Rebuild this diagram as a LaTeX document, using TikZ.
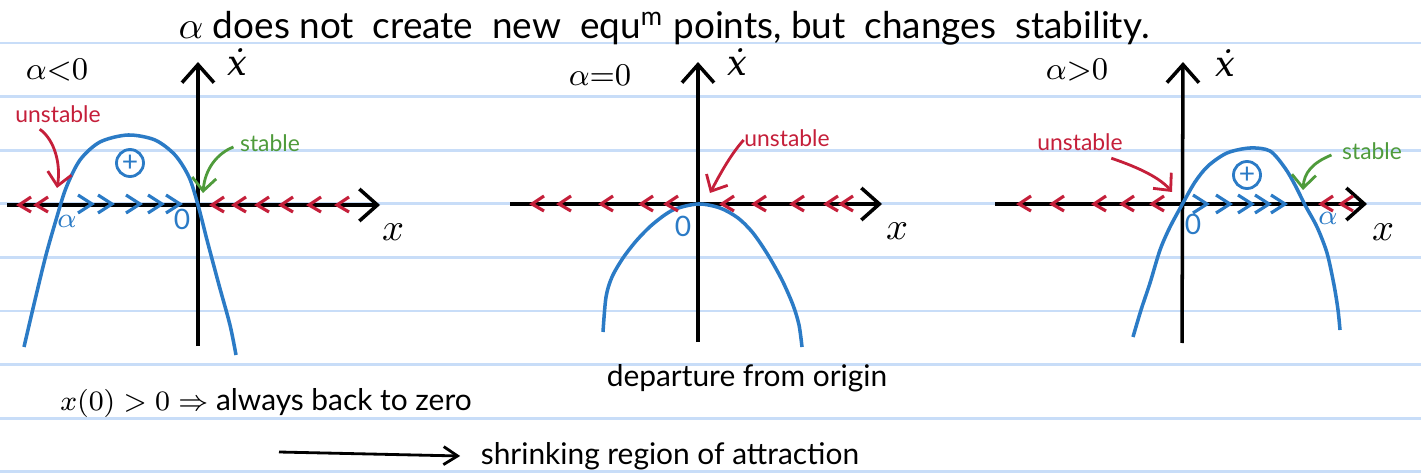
\documentclass[tikz,border=0pt]{standalone}
\usepackage{fontspec}
\setmainfont{Lato}
\newfontfamily\dotfont{DejaVu Serif}
\usetikzlibrary{arrows.meta}
\definecolor{inkblue}{HTML}{2B7BC6}
\definecolor{inkred}{HTML}{C51F3A}
\definecolor{inkgreen}{HTML}{4F9B3B}
\definecolor{ruling}{HTML}{C8DDF8}

\begin{document}
\begin{tikzpicture}[
    x=0.01cm, y=-0.01cm,
    axis/.style={-{Straight Barb[length=1.8mm, width=3.2mm]}, line width=1pt},
    curve/.style={inkblue, line width=1pt},
    lead/.style={-{Straight Barb[length=1.3mm, width=2.4mm]}, line width=0.8pt},
    leftmark/.style={inkred, line width=0.9pt},
    rightmark/.style={inkblue, line width=0.9pt},
    tag/.style={inner sep=0pt, font=\fontsize{6.5}{7}\selectfont},
    cond/.style={inner sep=0pt, font=\fontsize{9}{10}\selectfont},
    axlabel/.style={inner sep=0pt, font=\fontsize{11}{12}\selectfont},
    dotlabel/.style={inner sep=0pt, anchor=base, font=\dotfont\itshape\fontsize{10}{11}\selectfont},
    root/.style={inner sep=0pt, inkblue, font=\fontsize{8}{9}\selectfont},
    sign/.style={circle, draw=inkblue, inkblue, line width=0.8pt, inner sep=0pt, minimum size=0.27cm, font=\fontsize{8}{9}\selectfont},
    note/.style={inner sep=0pt, font=\fontsize{8.5}{10}\selectfont}
]
    \fill[white] (0,0) rectangle (1421,476);
    \useasboundingbox (0,0) rectangle (1421,476);
    % ruled paper
    \foreach \y in {43,96.6,150.2,203.8,257.4,311,364.6,418.2,471.8}
        \draw[ruling, line width=0.8pt] (0,\y) -- (1421,\y);

    % heading
    \node[inner sep=0pt, anchor=base west, font=\fontsize{10.5}{12}\selectfont] (title) at (178,39)
        {$\alpha$ does not \ create \ new \ equ$^{\mathrm{m}}$ points, but \ changes \ stability.};

    % ---------- alpha < 0 ----------
    \coordinate (xl1) at (7,205);
    \coordinate (xr1) at (380,205);
    \coordinate (yb1) at (198,346);
    \coordinate (yt1) at (198,62);
    \draw[axis] (xl1) -- (xr1);
    \draw[axis] (yb1) -- (yt1);
    \node[dotlabel] (xdot1) at (237,76) {ẋ};
    \node[axlabel] (x1) at (393,232) {$x$};
    \node[cond] (cond1) at (57,70) {$\alpha{<}0$};
    \draw[curve] plot[smooth] coordinates {(24,347) (35,300) (46,255) (56,220) (66,188) (80,160)
        (100,142) (128,135) (155,140) (175,155) (189,177) (198,205) (207,240) (219,285)
        (230,325) (236,355)};
    \node[sign] (plus1) at (130,163) {+};
    \foreach \p in {25,42,218,240,263,287,315,343}
        \draw[leftmark] (\p+6,197) -- (\p-6,205) -- (\p+6,212);
    \foreach \p in {85,105,133,155,173}
        \draw[rightmark] (\p-7,195) -- (\p+7,204) -- (\p-7,213);
    \node[root] (a1) at (67,221) {$\alpha$};
    \node[root] (z1) at (182,219) {0};
    \node[tag, inkred] (un1) at (58,114) {unstable};
    \coordinate (un1tip) at (57,188);
    \draw[lead, inkred] (un1.south west) ++(25,6) .. controls (55,140) and (61,165) .. (un1tip);
    \node[tag, inkgreen] (st1) at (270,143) {stable};
    \coordinate (st1tip) at (203,193);
    \draw[lead, inkgreen] (st1.west) ++(-6,4) .. controls (218,153) and (205,168) .. (st1tip);

    % ---------- alpha = 0 ----------
    \coordinate (xl2) at (510,204);
    \coordinate (xr2) at (882,204);
    \coordinate (yb2) at (698,342);
    \coordinate (yt2) at (698,62);
    \draw[axis] (xl2) -- (xr2);
    \draw[axis] (yb2) -- (yt2);
    \node[dotlabel] (xdot2) at (737,76) {ẋ};
    \node[axlabel] (x2) at (897,231) {$x$};
    \node[cond] (cond2) at (600,75) {$\alpha{=}0$};
    \draw[curve] plot[smooth] coordinates {(603,332) (606,297) (612,277) (623,258) (637,240)
        (653,224) (673,210) (698,204) (720,208) (738,218) (753,233) (768,255) (782,280)
        (793,305) (799,325) (802,347)};
    \foreach \p in {538,565,607,647,672,728,760,798,832,847}
        \draw[leftmark] (\p+6,196) -- (\p-6,204) -- (\p+6,211);
    \node[root] (z2) at (683,226) {0};
    \node[tag, inkred] (un2) at (787,138) {unstable};
    \coordinate (un2tip) at (710,193);
    \draw[lead, inkred] (un2.west) ++(0,2) .. controls (730,155) and (718,178) .. (un2tip);
    \node[note] (dep) at (747,378) {departure from origin};

    % ---------- alpha > 0 ----------
    \coordinate (xl3) at (995,204);
    \coordinate (xr3) at (1367,204);
    \coordinate (yb3) at (1182,343);
    \coordinate (yt3) at (1183,62);
    \draw[axis] (xl3) -- (xr3);
    \draw[axis] (yb3) -- (yt3);
    \node[dotlabel] (xdot3) at (1225,77) {ẋ};
    \node[axlabel] (x3) at (1383,232) {$x$};
    \node[cond] (cond3) at (1077,70) {$\alpha{>}0$};
    \draw[curve] plot[smooth] coordinates {(1133,337) (1141,310) (1150,283) (1160,250) (1170,227)
        (1183,203) (1195,182) (1208,166) (1227,153) (1250,148) (1270,151) (1285,168) (1295,185)
        (1305,205) (1317,227) (1327,253) (1334,285) (1338,310) (1340,330)};
    \node[sign] (plus3) at (1247,175) {+};
    \foreach \p in {1025,1058,1100,1128,1158,1327,1347}
        \draw[leftmark] (\p+6,196) -- (\p-6,204) -- (\p+6,211);
    \foreach \p in {1200,1223,1245,1262,1278}
        \draw[rightmark] (\p-7,195) -- (\p+7,204) -- (\p-7,213);
    \node[root] (z3) at (1193,224) {0};
    \node[root] (a3) at (1328,218) {$\alpha$};
    \node[tag, inkred] (un3) at (1080,142) {unstable};
    \coordinate (un3tip) at (1172,192);
    \draw[lead, inkred] (un3.south east) ++(-12,7) .. controls (1140,168) and (1160,178) .. (un3tip);
    \node[tag, inkgreen] (st3) at (1372,151) {stable};
    \coordinate (st3tip) at (1303,190);
    \draw[lead, inkgreen] (st3.west) ++(-10,4) .. controls (1312,163) and (1304,173) .. (st3tip);

    % ---------- remarks ----------
    \node[note] (back) at (266,403) {$x(0)>0 \Rightarrow$ always back to zero};
    \node[note] (attr) at (670,456) {shrinking region of attraction};
    \coordinate (astart) at (279,452);
    \draw[-{Straight Barb[length=1.4mm, width=1.8mm]}, line width=0.8pt] (astart) -- ([xshift=-0.2cm]attr.west);
\end{tikzpicture}
\end{document}
